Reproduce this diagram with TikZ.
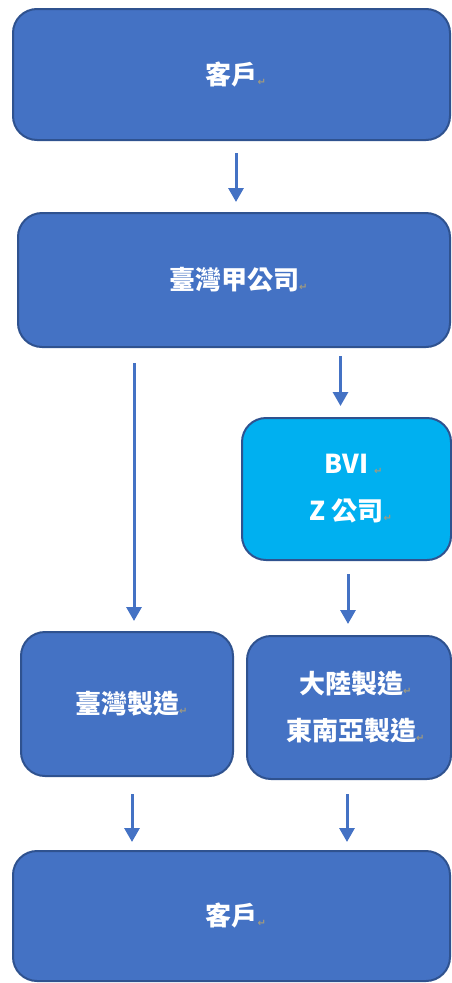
\documentclass[tikz,border=0pt]{standalone}
\usepackage{fontspec}
\usetikzlibrary{calc,arrows.meta}
\newfontfamily\cjk{Noto Sans CJK TC}
\newfontfamily\symf{DejaVu Sans}
\definecolor{boxblue}{HTML}{4472C4}
\definecolor{boxedge}{HTML}{2F528F}
\definecolor{bvicyan}{HTML}{00B0F0}
\definecolor{retmark}{HTML}{A09A80}
\newcommand{\ret}{\rlap{\symf\fontsize{10}{10}\selectfont\color{retmark}\raisebox{-1pt}{↵}}}
\tikzset{
  box/.style={draw=boxedge, line width=2pt, fill=boxblue, rounded corners=24pt,
    text=white, align=center, inner sep=0pt,
    font=\cjk\bfseries\fontsize{26}{47}\selectfont},
  arr/.style={draw=boxblue, line width=3pt, -{Triangle[width=15pt,length=14pt]}},
}
\begin{document}
\begin{tikzpicture}[x=1pt,y=-1pt]
\useasboundingbox (0,0) rectangle (452,983);
\node[box, minimum width=437pt, minimum height=131pt] (c1) at (231.5,74.5) {客戶\ret};
\node[box, minimum width=432pt, minimum height=134pt] (jia) at (234,280) {臺灣甲公司\ret};
\node[box, fill=bvicyan, minimum width=209pt, minimum height=142pt] (bvi) at (346.5,489) {BVI\rlap{\ \ret}\\Z 公司\ret};
\node[box, minimum width=212pt, minimum height=144pt] (tw) at (127,704) {臺灣製造\ret};
\node[box, minimum width=204pt, minimum height=143pt] (dl) at (349,707.5) {\hspace*{4pt}大陸製造\ret\\\hspace*{4pt}東南亞製造\ret};
\node[box, minimum width=437pt, minimum height=130pt] (c2) at (231.5,916) {客戶\ret};
\draw[arr] ($(c1.south)+(4.5,12)$) -- ($(jia.north)+(2,-10)$);
\draw[arr] ($(jia.south -| tw.north)+(7,15)$) -- ($(tw.north)+(7,-10)$);
\draw[arr] ($(jia.south -| bvi.north)+(-6,8)$) -- ($(bvi.north)+(-6,-11)$);
\draw[arr] ($(bvi.south)+(1.5,13)$) -- ($(dl.north)+(-1,-11)$);
\draw[arr] ($(tw.south)+(5,17)$) -- ($(c2.north -| tw.south)+(5,-8)$);
\draw[arr] ($(dl.south)+(-2,14)$) -- ($(c2.north -| dl.south)+(-2,-8)$);
\end{tikzpicture}
\end{document}
